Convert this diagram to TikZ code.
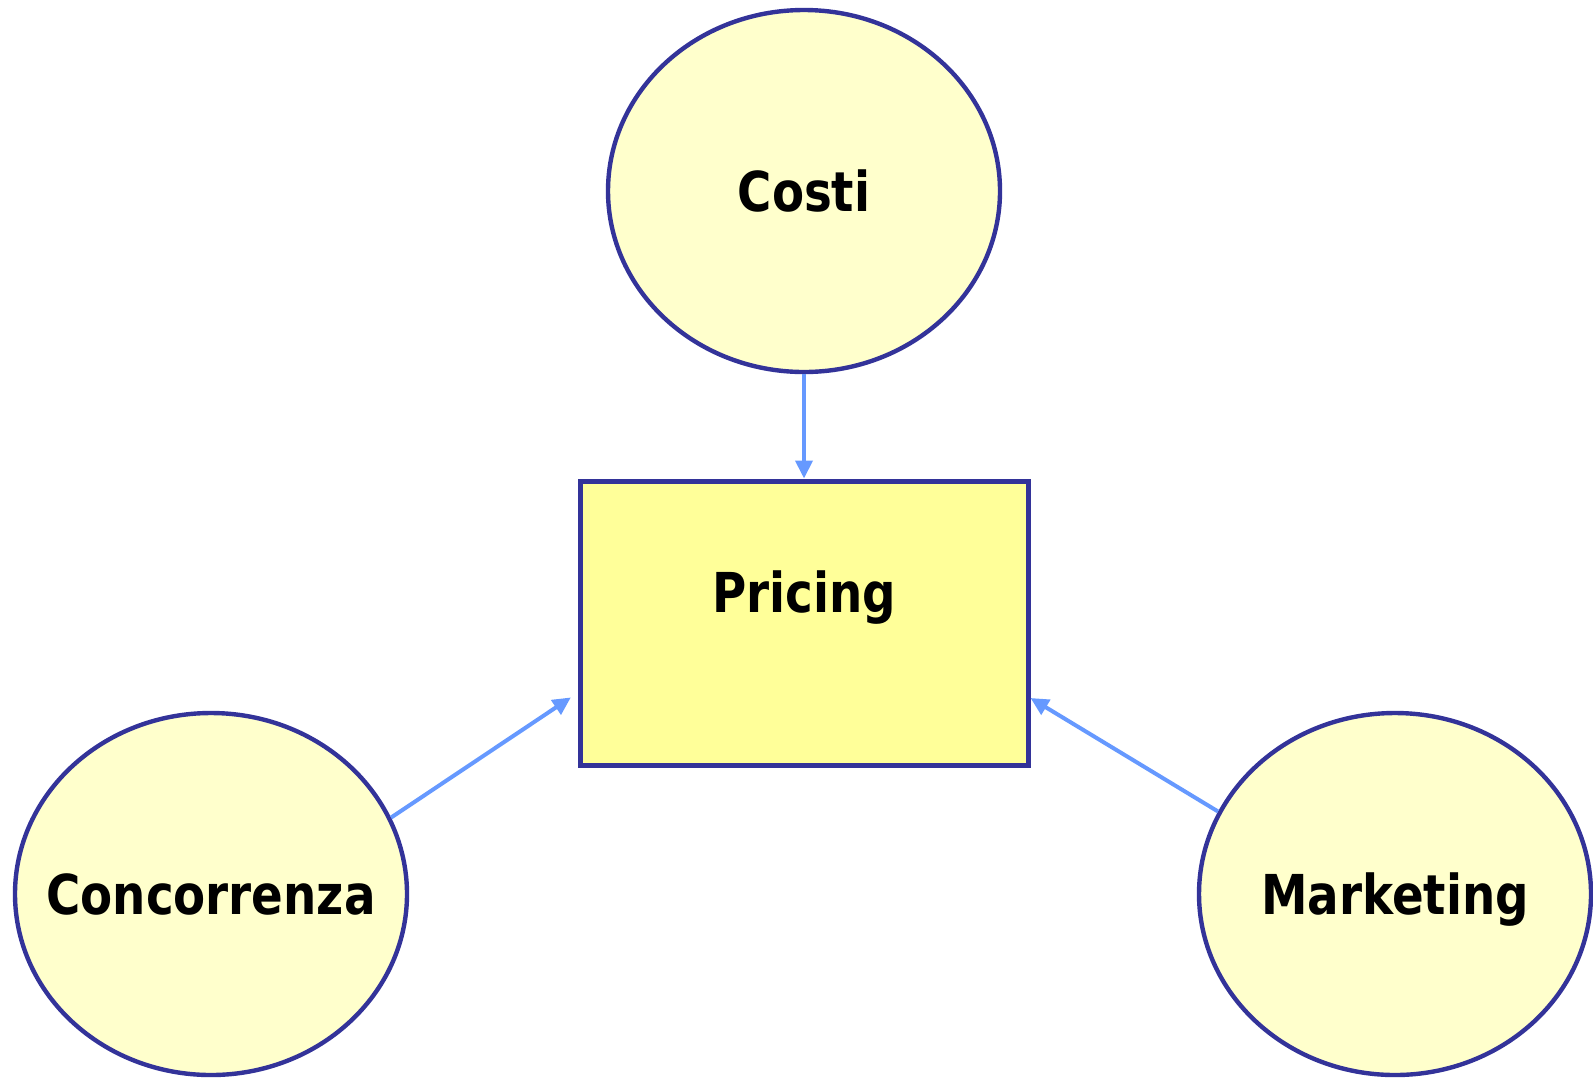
\documentclass[tikz,border=0pt]{standalone}
\usepackage{fontspec}
\setmainfont{DejaVu Sans}[FakeStretch=0.85]
\usetikzlibrary{arrows.meta,shapes.geometric}

\definecolor{edgeblue}{HTML}{333399}
\definecolor{arrowblue}{HTML}{6699FF}
\definecolor{paleyellow}{HTML}{FFFFCC}
\definecolor{boxyellow}{HTML}{FFFF99}

\begin{document}
\begin{tikzpicture}[
  x=0.5pt, y=-0.5pt,
  font=\bfseries\fontsize{27.5}{33}\selectfont,
  every label/.style={text height=20pt, text depth=0pt, inner sep=0pt},
  factor/.style={draw=edgeblue, line width=2.2pt, ellipse, fill=paleyellow, minimum width=196pt, minimum height=181pt, inner sep=0pt},
  pricebox/.style={draw=edgeblue, line width=2.5pt, rectangle, fill=boxyellow, minimum width=224pt, minimum height=142pt, inner sep=0pt},
  arrow/.style={-{Triangle[length=9pt,width=8.5pt]}, line width=2pt, draw=arrowblue}
]

\useasboundingbox (0,0) rectangle (1593,1077);

\node[factor, label=center:Costi] (costi) at (804,191) {};
\node[pricebox, label={[yshift=15.5pt]center:Pricing}] (pricing) at (804,623) {};
\node[factor, label=center:Concorrenza] (conc) at (211,894) {};
\node[factor, label=center:Marketing] (mark) at (1395,894) {};

\draw[arrow] (costi.south) -- (pricing.north);
\draw[arrow, shorten >=4pt] (conc.23) -- ([yshift=-35pt]pricing.west);
\draw[arrow] (mark.155) -- ([yshift=-37.5pt]pricing.east);

\end{tikzpicture}
\end{document}
